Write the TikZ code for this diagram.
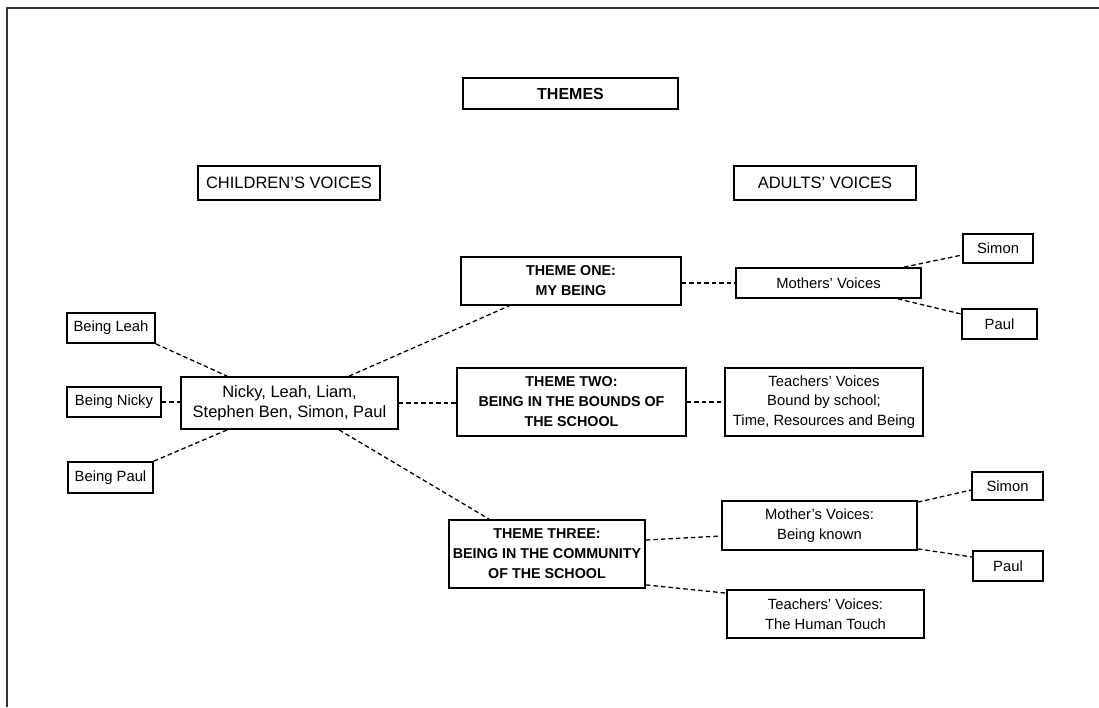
\documentclass[tikz,border=0pt]{standalone}
\usepackage{fontspec}
\setmainfont{Liberation Sans}
\usetikzlibrary{calc}
\begin{document}
\begin{tikzpicture}[x=1pt,y=-1pt,
  box/.style={draw, line width=1.8pt, inner sep=0pt, align=center, font=\fontsize{14.8}{19.5}\selectfont},
  bbox/.style={box, font=\fontsize{14.3}{20}\selectfont\bfseries},
  link/.style={draw, line width=1.3pt, dash pattern=on 4.5pt off 3pt}]
\useasboundingbox (0,0) rectangle (1099,707);
\draw[line width=1.8pt, black!80] (1099,8) -- (7,8) -- (7,707);

\node[bbox, minimum width=215pt, minimum height=31pt, font=\fontsize{16}{20}\selectfont\bfseries] (themes) at (570.5,93.5) {THEMES};
\node[box, minimum width=182pt, minimum height=34pt, font=\fontsize{16.5}{20}\selectfont] (cv) at (289,183) {CHILDREN’S VOICES};
\node[box, minimum width=182pt, minimum height=34pt, font=\fontsize{16.5}{20}\selectfont] (av) at (825,183) {ADULTS’ VOICES};

\node[bbox, minimum width=220pt, minimum height=48pt] (t1) at (571,281) {THEME ONE:\\MY BEING};
\node[box, minimum width=185pt, minimum height=30pt] (mv) at (828.5,283) {Mothers’ Voices};
\node[box, minimum width=70pt, minimum height=29pt] (simon1) at (998,248.5) {Simon};
\node[box, minimum width=75pt, minimum height=30pt] (paul1) at (999.5,324) {Paul};

\node[box, minimum width=88pt, minimum height=30pt] (bl) at (111,328) {Being Leah};
\node[box, minimum width=94pt, minimum height=30pt] (bn) at (114,402) {Being Nicky};
\node[box, minimum width=85pt, minimum height=31pt] (bp) at (110.5,477.5) {Being Paul};
\node[box, minimum width=217pt, minimum height=52pt, font=\fontsize{16.5}{20}\selectfont] (kids) at (289.5,403) {Nicky, Leah, Liam,\\Stephen Ben, Simon, Paul};

\node[bbox, minimum width=229pt, minimum height=68pt] (t2) at (571.5,402) {THEME TWO:\\BEING IN THE BOUNDS OF\\THE SCHOOL};
\node[box, minimum width=198pt, minimum height=68pt] (tv) at (824,402) {Teachers’ Voices\\Bound by school;\\Time, Resources and Being};

\node[bbox, minimum width=196pt, minimum height=68pt] (t3) at (547,554) {THEME THREE:\\BEING IN THE COMMUNITY\\OF THE SCHOOL};
\node[box, minimum width=195pt, minimum height=49pt] (mk) at (819.5,525.5) {Mother’s Voices:\\Being known};
\node[box, minimum width=71pt, minimum height=28pt] (simon2) at (1007.5,486) {Simon};
\node[box, minimum width=70pt, minimum height=30pt] (paul2) at (1008,566) {Paul};
\node[box, minimum width=197pt, minimum height=48pt] (ht) at (825.5,614) {Teachers’ Voices:\\The Human Touch};

\draw[link] (bl.south east) -- ($(kids.north west)+(47,0)$);
\draw[link] (bn.east) -- (bn.east -| kids.west);
\draw[link] (bp.north east) -- ($(kids.south west)+(47,0)$);
\draw[link] ($(kids.north west)+(169,0)$) -- ($(t1.south west)+(49,0)$);
\draw[link] (kids.east) -- (kids.east -| t2.west);
\draw[link] ($(kids.south west)+(159,0)$) -- ($(t3.north west)+(41,0)$);
\draw[link] (mv.west -| t1.east) -- (mv.west);
\draw[link] ($(mv.north east)+(-18,0)$) -- ($(simon1.west)+(0,6.5)$);
\draw[link] ($(mv.south east)+(-24,0)$) -- ($(paul1.west)+(0,-10)$);
\draw[link] (t2.east) -- (t2.east -| tv.west);
\draw[link] ($(t3.east)+(0,-14)$) -- ($(mk.west)+(0,10.5)$);
\draw[link] ($(t3.south east)+(0,-4)$) -- ($(ht.north west)+(0,4)$);
\draw[link] ($(mk.north east)+(0,2)$) -- ($(simon2.west)+(0,4)$);
\draw[link] ($(mk.south east)+(0,-2)$) -- ($(paul2.west)+(0,-9)$);
\end{tikzpicture}
\end{document}
